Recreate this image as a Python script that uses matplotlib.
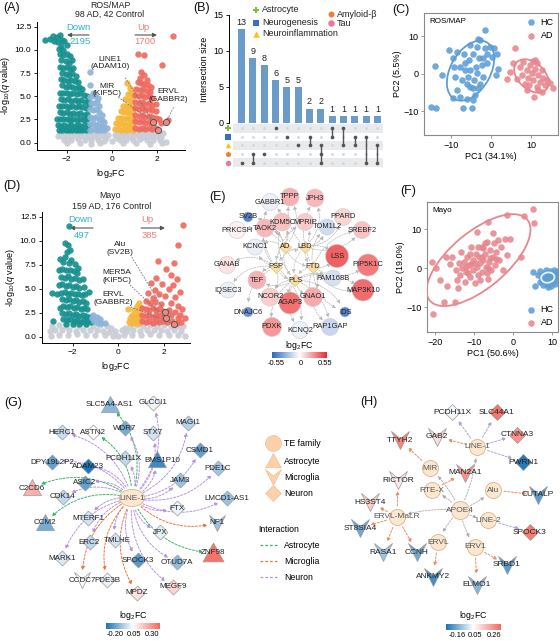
import numpy as np
import matplotlib
matplotlib.use("Agg")
import matplotlib.pyplot as plt
from matplotlib.colors import LinearSegmentedColormap, Normalize
from matplotlib.patches import Ellipse
from matplotlib.path import Path

plt.rcParams['font.family'] = ['Liberation Sans', 'DejaVu Sans']
plt.rcParams['mathtext.fontset'] = 'custom'
plt.rcParams['mathtext.rm'] = 'Liberation Sans'
plt.rcParams['mathtext.it'] = 'Liberation Sans:italic'
plt.rcParams['font.size'] = 6
plt.rcParams['axes.linewidth'] = 0.7

W, H = 560, 641

# ---------------- data: volcano ROS/MAP (A) ----------------
a_down = [(-2.95, 11.1), (-2.75, 11.2), (-2.6, 11.5), (-2.45, 11.4), (-2.3, 11.6), (-2.2, 11.1), (-2.1, 10.9),
          (-2.0, 10.5), (-2.4, 10.8), (-2.55, 10.9), (-2.25, 10.4), (-2.15, 10.0), (-2.35, 10.1),
          (-2.3, 9.5), (-2.15, 9.4), (-2.0, 9.6), (-1.85, 9.3), (-2.25, 8.9), (-2.05, 8.8), (-1.9, 8.6), (-1.75, 8.9),
          (-2.3, 8.2), (-2.15, 8.0), (-2.0, 8.1), (-1.85, 7.9), (-1.7, 8.0), (-2.2, 7.5), (-2.05, 7.4), (-1.9, 7.3),
          (-1.75, 7.5), (-1.6, 7.2), (-2.25, 6.9), (-2.1, 6.8), (-1.95, 6.6), (-1.8, 6.8), (-1.65, 6.6), (-1.5, 6.5),
          (-2.2, 6.2), (-2.05, 6.0), (-1.9, 6.1), (-1.75, 6.0), (-1.6, 5.9), (-1.45, 6.0), (-1.3, 5.8),
          (-2.3, 5.4), (-2.15, 5.3), (-2.0, 5.4), (-1.85, 5.2), (-1.7, 5.3), (-1.55, 5.2), (-1.4, 5.3), (-1.25, 5.1),
          (-1.1, 5.0), (-2.25, 4.7), (-2.1, 4.6), (-1.95, 4.7), (-1.8, 4.5), (-1.65, 4.6), (-1.5, 4.5), (-1.35, 4.6),
          (-1.2, 4.4), (-1.05, 4.5), (-2.35, 4.0), (-2.2, 3.9), (-2.05, 4.0), (-1.9, 3.8), (-1.75, 3.9), (-1.6, 3.8),
          (-1.45, 3.9), (-1.3, 3.8), (-1.15, 3.7), (-1.02, 3.9), (-2.3, 3.3), (-2.15, 3.2), (-2.0, 3.3), (-1.85, 3.1),
          (-1.7, 3.2), (-1.55, 3.1), (-1.4, 3.2), (-1.25, 3.0), (-1.1, 3.1), (-2.45, 2.5), (-2.3, 2.6), (-2.15, 2.5),
          (-2.0, 2.6), (-1.85, 2.4), (-1.7, 2.5), (-1.55, 2.4), (-1.4, 2.5), (-1.25, 2.4), (-1.1, 2.5), (-2.4, 1.9),
          (-2.25, 1.8), (-2.1, 1.9), (-1.95, 1.8), (-1.8, 1.9), (-1.65, 1.8), (-1.5, 1.9), (-1.35, 1.8), (-1.2, 1.9),
          (-1.05, 1.8), (-2.35, 1.4), (-2.2, 1.35), (-2.05, 1.4), (-1.9, 1.4), (-1.75, 1.35), (-1.6, 1.4),
          (-1.45, 1.4), (-1.3, 1.35), (-1.15, 1.4)]
a_mdown = [(-0.98, 7.6), (-0.95, 6.2), (-0.85, 5.4), (-0.75, 5.0), (-0.95, 4.9), (-0.9, 4.3), (-0.78, 4.3),
           (-0.65, 4.4), (-0.55, 3.9), (-0.95, 3.6), (-0.83, 3.5), (-0.7, 3.6), (-0.58, 3.3), (-0.45, 3.0),
           (-0.95, 2.8), (-0.83, 2.7), (-0.7, 2.8), (-0.58, 2.6), (-0.45, 2.4), (-0.33, 2.2), (-0.95, 2.0),
           (-0.83, 2.1), (-0.7, 1.9), (-0.58, 2.0), (-0.45, 1.8), (-0.33, 1.7), (-0.2, 1.6), (-0.95, 1.4),
           (-0.8, 1.45), (-0.65, 1.4), (-0.5, 1.4), (-0.35, 1.35), (-0.6, 4.8)]
a_mup = [(0.67, 6.45), (0.8, 5.9), (0.72, 5.2), (0.85, 5.3), (0.95, 5.0), (0.6, 4.7), (0.75, 4.6), (0.88, 4.5),
         (0.5, 4.0), (0.63, 4.0), (0.77, 3.9), (0.9, 3.8), (0.4, 3.4), (0.53, 3.3), (0.66, 3.4), (0.79, 3.2),
         (0.92, 3.3), (0.3, 2.7), (0.43, 2.7), (0.56, 2.6), (0.69, 2.7), (0.82, 2.5), (0.95, 2.6), (0.2, 2.1),
         (0.33, 2.0), (0.46, 2.1), (0.59, 1.95), (0.72, 2.0), (0.85, 1.9), (0.97, 2.0), (0.15, 1.5), (0.28, 1.45),
         (0.41, 1.4), (0.54, 1.45), (0.67, 1.4), (0.8, 1.45), (0.93, 1.4)]
a_up = [(2.74, 11.5), (1.18, 9.5), (1.45, 9.4), (2.25, 8.4), (1.3, 7.6), (1.42, 7.3), (1.25, 7.0), (1.55, 6.8),
        (1.15, 6.5), (1.3, 6.4), (1.45, 6.3), (1.6, 6.2), (1.75, 6.0), (1.1, 5.8), (1.25, 5.7), (1.4, 5.8),
        (1.55, 5.6), (1.7, 5.5), (1.05, 5.1), (1.2, 5.0), (1.35, 5.1), (1.5, 4.9), (1.65, 5.0), (1.8, 4.8),
        (1.05, 4.4), (1.2, 4.3), (1.35, 4.4), (1.5, 4.2), (1.65, 4.3), (1.8, 4.1), (1.95, 4.2), (1.05, 3.7),
        (1.2, 3.6), (1.35, 3.7), (1.5, 3.5), (1.65, 3.6), (1.8, 3.5), (1.95, 3.4), (1.05, 3.0), (1.2, 2.9),
        (1.35, 3.0), (1.5, 2.8), (1.65, 2.9), (1.8, 2.8), (1.95, 2.7), (2.1, 2.6), (1.05, 2.3), (1.2, 2.2),
        (1.35, 2.3), (1.5, 2.1), (1.65, 2.2), (1.8, 2.1), (1.05, 1.6), (1.2, 1.5), (1.35, 1.6), (1.5, 1.45),
        (1.65, 1.55), (1.8, 1.5), (1.95, 1.6), (2.2, 2.1), (2.5, 2.4)]
a_ns = [(-2.3, 1.1), (-2.1, 1.2), (-1.9, 1.15), (-1.7, 1.2), (-1.5, 1.1), (-1.3, 1.2), (-1.1, 1.15), (-0.9, 1.2),
        (-0.7, 1.1), (-0.5, 1.2), (-0.3, 1.05), (-0.15, 0.8), (0.15, 0.85), (0.3, 1.1), (0.5, 1.2), (0.7, 1.15),
        (0.9, 1.2), (1.1, 1.1), (1.3, 1.2), (1.5, 1.15), (1.7, 1.2), (1.9, 1.1), (2.1, 1.15), (2.3, 1.0),
        (-2.4, 0.7), (-2.2, 0.75), (-2.0, 0.65), (-1.8, 0.7), (-1.6, 0.75), (-1.4, 0.7), (-1.2, 0.65), (-1.0, 0.75),
        (-0.8, 0.7), (-0.6, 0.65), (-0.4, 0.7), (-0.25, 0.5), (0.25, 0.55), (0.4, 0.7), (0.6, 0.75), (0.8, 0.65),
        (1.0, 0.7), (1.2, 0.75), (1.4, 0.65), (1.6, 0.7), (1.8, 0.75), (2.0, 0.7), (2.2, 0.65),
        (-2.1, 0.3), (-1.8, 0.25), (-1.5, 0.35), (-1.2, 0.3), (-0.9, 0.25), (-0.6, 0.3), (-0.35, 0.2), (0.0, 0.2),
        (0.35, 0.25), (0.65, 0.3), (0.95, 0.25), (1.25, 0.35), (1.55, 0.3), (1.85, 0.25), (2.15, 0.3),
        (-2.0, -0.05), (-1.4, 0.0), (-0.9, -0.1), (-0.5, 0.0), (0.5, -0.05), (1.1, 0.0), (1.7, -0.1), (2.25, 0.0),
        (2.4, 0.1)]
a_hl = [(1.85, 2.26), (2.07, 1.37), (2.41, 2.2)]
a_lab = ['MIR\n(KIF5C)', 'LINE1\n(ADAM10)', 'ERVL\n(GABBR2)']
a_lab_pos = [(-0.22, 5.7), (-0.08, 8.6), (2.5, 5.1)]
a_lab_from = [(0.29, 4.9), (0.6, 7.0), (2.75, 3.8)]

# ---------------- data: volcano Mayo (D) ----------------
d_down = [(-2.15, 11.5), (-2.9, 4.6), (-2.7, 4.4), (-2.85, 1.6), (-2.55, 3.0),
          (-2.33, 9.75), (-2.2, 9.55), (-2.26, 8.85), (-2.1, 9.0), (-2.35, 8.3), (-2.05, 8.0), (-2.55, 8.1),
          (-2.4, 7.8), (-2.15, 7.7), (-1.9, 7.6), (-1.75, 7.2), (-2.6, 7.0), (-2.45, 7.1), (-2.3, 6.9), (-2.1, 7.0),
          (-1.95, 6.8), (-1.8, 6.6), (-2.5, 6.2), (-2.35, 6.1), (-2.2, 6.3), (-2.05, 6.0), (-1.9, 6.1), (-1.7, 5.9),
          (-1.55, 6.0), (-2.6, 5.4), (-2.45, 5.5), (-2.3, 5.3), (-2.15, 5.4), (-2.0, 5.2), (-1.85, 5.3), (-1.7, 5.1),
          (-1.5, 5.2), (-1.3, 4.7), (-2.5, 4.6), (-2.35, 4.7), (-2.2, 4.5), (-2.05, 4.6), (-1.9, 4.4), (-1.75, 4.5),
          (-1.6, 4.3), (-1.45, 4.4), (-2.45, 3.9), (-2.3, 3.8), (-2.15, 3.9), (-2.0, 3.7), (-1.85, 3.8), (-1.7, 3.6),
          (-1.55, 3.7), (-1.4, 3.5), (-2.4, 3.2), (-2.25, 3.1), (-2.1, 3.2), (-1.95, 3.0), (-1.8, 3.1), (-1.65, 2.9),
          (-1.5, 3.0), (-1.35, 2.9), (-2.45, 2.5), (-2.3, 2.4), (-2.15, 2.5), (-2.0, 2.3), (-1.85, 2.4), (-1.7, 2.2),
          (-1.55, 2.3), (-1.4, 2.2), (-1.25, 2.1), (-2.4, 1.8), (-2.25, 1.7), (-2.1, 1.8), (-1.95, 1.6), (-1.8, 1.7),
          (-1.65, 1.5), (-1.5, 1.7), (-1.35, 1.6), (-1.2, 1.5), (-2.3, 1.35), (-2.0, 1.35), (-1.7, 1.35), (-1.4, 1.35)]
d_mdown = [(-1.1, 2.3), (-0.95, 2.0), (-0.8, 1.8), (-1.05, 1.6), (-0.9, 1.45), (-0.75, 1.4), (-0.6, 1.4), (-1.15, 1.9)]
d_mup = [(0.9, 3.5), (0.8, 3.2), (0.95, 3.0), (0.7, 2.8), (0.85, 2.7), (0.42, 2.9), (0.6, 2.3), (0.75, 2.2),
         (0.9, 2.3), (0.5, 1.9), (0.65, 1.8), (0.8, 1.9), (0.95, 1.8), (0.45, 1.5), (0.6, 1.4), (0.75, 1.45),
         (0.9, 1.4)]
d_up = [(2.84, 11.6), (2.63, 9.6), (1.75, 7.9), (2.45, 7.7), (2.1, 7.1), (2.3, 6.4), (1.65, 6.1), (2.55, 6.0),
        (1.45, 5.6), (1.9, 5.5), (2.4, 5.4), (2.2, 5.0), (1.6, 4.9), (2.7, 4.7), (1.3, 4.6), (1.8, 4.4),
        (2.05, 4.2), (2.5, 4.1), (1.5, 4.0), (1.2, 3.7), (1.4, 3.5), (1.6, 3.6), (1.85, 3.4), (2.3, 3.5),
        (2.6, 3.2), (2.8, 2.9), (1.05, 3.0), (1.2, 2.9), (1.35, 2.8), (1.5, 2.95), (1.65, 2.8), (1.8, 2.9),
        (1.95, 2.7), (2.2, 2.8), (2.5, 2.6), (2.7, 2.3), (1.05, 2.3), (1.2, 2.2), (1.35, 2.3), (1.5, 2.1),
        (1.65, 2.3), (1.8, 2.2), (2.0, 2.1), (2.3, 2.3), (2.6, 1.9), (1.05, 1.6), (1.2, 1.5), (1.35, 1.6),
        (1.5, 1.45), (1.65, 1.6), (1.8, 1.5), (1.95, 1.6), (2.15, 1.5), (2.35, 1.6), (2.55, 1.45), (2.75, 1.5),
        (2.9, 1.9)]
d_ns = [(-2.9, 1.1), (-2.6, 1.2), (-2.3, 1.1), (-2.0, 1.2), (-1.7, 1.15), (-1.4, 1.2), (-1.1, 1.1), (-0.8, 1.2),
        (-0.5, 1.1), (-0.3, 0.9), (-0.15, 0.6), (0.15, 0.65), (0.3, 0.95), (0.5, 1.15), (0.8, 1.2), (1.1, 1.1),
        (1.4, 1.2), (1.7, 1.15), (2.0, 1.2), (2.3, 1.1), (2.6, 1.15), (2.85, 1.1),
        (-3.0, 0.6), (-2.75, 0.7), (-2.45, 0.65), (-2.15, 0.7), (-1.85, 0.6), (-1.55, 0.7), (-1.25, 0.65),
        (-0.95, 0.7), (-0.65, 0.6), (-0.4, 0.5), (0.4, 0.55), (0.65, 0.7), (0.95, 0.6), (1.25, 0.7), (1.55, 0.65),
        (1.85, 0.7), (2.15, 0.6), (2.45, 0.7), (2.75, 0.6),
        (-2.95, 0.1), (-2.6, 0.2), (-2.2, 0.15), (-1.8, 0.25), (-1.4, 0.2), (-1.0, 0.15), (-0.6, 0.2), (-0.25, 0.1),
        (0.0, 0.05), (0.25, 0.15), (0.6, 0.2), (1.0, 0.15), (1.4, 0.25), (1.8, 0.15), (2.2, 0.2), (2.6, 0.15),
        (2.9, 0.1)]
d_hl = [(2.04, 2.6), (2.07, 1.9), (2.45, 1.3)]
d_lab = ['Alu\n(SV2B)', 'MER5A\n(KIF5C)', 'ERVL\n(GABBR2)']
d_lab_pos = [(0.08, 9.2), (-0.07, 6.25), (-0.22, 4.0)]
d_lab_from = [(0.59, 8.3), (0.51, 5.4), (0.55, 3.1)]

# ---------------- data: upset (B) ----------------
sets = ['Astrocyte', 'Neurogenesis', 'Neuroinflammation', 'Amyloid-β', 'Tau']
set_colors = ['#77c043', '#3a6fc4', '#f5c518', '#f07d3a', '#ea7a9c']
set_markers = ['P', 's', '^', 'h', 'o']
inter_sizes = [13, 9, 8, 6, 5, 5, 2, 2, 1, 1, 1, 1, 1]
inter_members = [[4], [3, 4], [3], [0], [1], [2], [1, 2], [2, 3, 4], [0, 1], [0, 2], [1, 2], [1, 4], [2, 4]]

# ---------------- data: PCA (C, F) ----------------
c_hc = [(-15, -8.8), (-13.75, -9), (-14, 2.0), (-12.3, -0.4), (-10.4, 6.3), (-9.6, -6.4), (-9.4, 4.1), (-9.2, 1.9),
        (-9, -0.8), (-8.4, -4.4), (-7.75, -6.1), (-6.9, -9.2), (-6.7, 5.4), (-6.5, 2.8), (-5.9, -6.6), (-5.7, -0.8),
        (-5.4, 3.6), (-5.25, 1.0), (-4.8, -9.2), (-4.6, -3.9), (-4.4, 5.4), (-4.25, -1.7), (-4, -5.7), (-3.75, 1.9),
        (-3.6, 7.2), (-3.2, 9.4), (-2.75, 9.0), (-2.9, 4.1), (-2.3, 2.3), (-1.9, -0.8), (-1.5, 11.6), (-1.5, 6.8),
        (-1.1, 5.4), (-0.9, 2.8), (-0.25, 7.2), (0.2, 4.5), (0.75, 6.8), (1.25, -0.4), (1.8, 1.4), (1.4, 5.4),
        (-6, -2.6), (-7.3, -1.7), (-5.25, -3.5), (-7.75, 1.9), (-8.6, 5.9), (-6.5, 1.0), (-3.6, 0.1), (-2.75, -2.6),
        (-3.2, -3.9), (-4.4, -7), (-5.25, 7.6), (-1.9, 4.1)]
c_ad = [(6, 6.8), (3.9, -1.5), (4.75, 0.5), (5.6, 2.9), (6.4, -1.5), (7.25, 1.9), (7.7, -0.4), (8.1, 3.2),
        (8.5, -2.6), (8.9, 1.0), (9.3, -1), (9.75, 2.3), (10.2, 0.1), (10.6, -1.7), (10.75, -6.1), (11, 1.4),
        (11.4, -3.5), (11.8, -0.4), (12.25, -2.1), (12.7, -4.8), (13.1, -1.2), (13.5, -3.0), (13.9, -1.7),
        (15.4, -3.7), (11.4, 2.8), (10.4, 3.5), (8.9, -4.2), (9.6, -3.0), (11.8, -4.4), (14.75, -2.4),
        (12.7, 1.0), (11, 3.6)]
f_ad = [(-20.9, 1.7), (-20.5, -11.8), (-19.7, 0), (-18.8, -3), (-17.8, -8.7), (-17.1, 3.0), (-16.9, -4.5),
        (-16.2, 1.1), (-15.8, 3.0), (-15, -8.5), (-14.7, -0.4), (-14.4, -3.0), (-14.1, -5.1), (-13.8, 1.3),
        (-13.7, -1.7), (-13.5, 4.3), (-13, 0), (-12.6, 1.7), (-12.4, -3.4), (-12, -0.9), (-11.8, 3.0), (-11.3, 0.9),
        (-11.1, -2.1), (-10.7, 5.4), (-10.4, -0.4), (-10.3, 2.1), (-9.8, -3.8), (-9.6, 3.8), (-9.4, 9.2),
        (-9.2, 0.4), (-9, -1.7), (-8.7, 3.0), (-8.4, 1.3), (-8.1, 5.6), (-7.9, -0.9), (-7.7, 2.1), (-7.3, 3.8),
        (-7, 0.4), (-6.8, 6.8), (-6.4, 12), (-6.4, -2.6), (-6.2, 1.7), (-6, 4.7), (-5.6, -0.4), (-5.3, 3.0),
        (-5, 6.4), (-4.7, 0.9), (-4.3, 4.3), (-3.8, 7.3), (-3.6, 2.1), (-3, 5.6), (-2.6, -0.4), (-2.1, 7.5),
        (-1.7, 3.4), (-0.9, 7.5), (-1.5, 13.7), (1.9, 3.0), (2.7, 13.4), (5.1, 15.3), (5.3, 11.5),
        (-11.1, 3.8), (-8.5, -3.0), (-9.8, 1.3), (-7.3, 6.4), (-6, 2.6), (-12, 0.4), (-7.7, 5.1), (-6.8, -1.3),
        (-9, 5.6), (-5.1, 9.0), (-10.8, 1.0), (-8.0, 2.8), (-6.5, 0.0), (-4.5, 2.5), (-11.5, -1.2)]
f_hc = [(5.0, -0.9), (5.6, -4.5), (6.3, -1.8), (6.8, -3.6), (7.0, -0.6), (7.3, -2.6), (7.6, -4.2), (7.9, -1.4),
        (8.2, -3.1), (8.4, -0.4), (8.6, -2.2), (8.8, -4.0), (9.0, -1.2), (9.2, -3.3), (9.4, -0.8), (9.6, -2.6),
        (9.8, -4.4), (10.0, -1.7), (10.2, -3.5), (10.4, -0.3), (10.6, -2.4), (10.8, -4.0), (11.0, -1.3),
        (11.2, -3.0), (11.4, -0.6), (8.0, -2.0), (9.5, -2.0), (10.5, -1.2), (7.5, -3.0), (9.0, -4.7), (11.3, -2.0)]

# ---------------- data: network E ----------------
e_genes = ['TPPP', 'GABBR1', 'JPH3', 'SV2B', 'PPARD', 'KDM5C', 'MPRIP', 'PRKCSH', 'TAOK2', 'TOM1L2', 'SREBF2',
           'KCNC1', 'LSS', 'GANAB', 'PIP5K1C', 'TEF', 'FAM168B', 'IQSEC3', 'MAP3K10', 'NCOR2', 'GNAO1', 'AGAP3',
           'DNAJC6', 'IDS', 'PDXK', 'KCNQ2', 'RAP1GAP']
e_x = [290, 270, 315, 248, 343, 282, 305, 237, 265, 327, 362, 255, 337, 227, 368, 257, 333, 228, 363, 270, 313,
       290, 248, 345, 272, 300, 330]
e_y = [197, 202, 198, 217, 217, 222, 222, 230, 228, 227, 230, 247, 256, 265, 265, 280, 278, 290, 290, 297, 297,
       303, 312, 312, 327, 330, 327]
e_fc = [0.22, -0.06, 0.2, -0.5, 0.12, 0.18, 0.15, 0.04, 0.2, -0.14, 0.18, -0.06, 0.45, 0.08, 0.38, 0.22, -0.12,
        -0.06, 0.42, 0.14, 0.24, 0.4, -0.45, -0.5, 0.3, -0.05, -0.16]
e_size = [18, 17, 18, 10, 17, 18, 17, 17, 18, 16, 17, 16, 23, 17, 22, 18, 16, 16, 22, 18, 19, 22, 10, 10, 19, 17, 17]
e_dis = ['AD', 'LBD', 'PSP', 'FTD', 'PLS']
e_dis_x = [285, 305, 276, 313, 295]
e_dis_y = [247, 247, 267, 267, 280]
e_links = {'TPPP': ['AD', 'LBD'], 'GABBR1': ['AD', 'PSP'], 'JPH3': ['LBD', 'FTD'], 'SV2B': ['AD'],
           'PPARD': ['LBD'], 'KDM5C': ['AD', 'PLS'], 'MPRIP': ['LBD', 'PSP'], 'PRKCSH': ['AD'],
           'TAOK2': ['AD', 'PSP'], 'TOM1L2': ['LBD', 'FTD'], 'SREBF2': ['LBD', 'FTD'], 'KCNC1': ['AD', 'PSP'],
           'LSS': ['FTD', 'LBD'], 'GANAB': ['PSP'], 'PIP5K1C': ['FTD'], 'TEF': ['PSP', 'PLS'],
           'FAM168B': ['FTD', 'PLS'], 'IQSEC3': ['PSP'], 'MAP3K10': ['FTD', 'PLS'], 'NCOR2': ['PLS', 'PSP'],
           'GNAO1': ['PLS', 'FTD'], 'AGAP3': ['PLS'], 'DNAJC6': ['PSP'], 'IDS': ['FTD', 'PLS'], 'PDXK': ['PLS'],
           'KCNQ2': ['PLS', 'PSP'], 'RAP1GAP': ['FTD', 'PLS']}

# ---------------- data: network G ----------------
g_center = 'LINE-1'
g_nodes = ['SLC5A4-AS1', 'GLCCI1', 'MAGI1', 'HERC1', 'ASTN2', 'WDR7', 'STX7', 'CSMD1', 'DPY19L2P2', 'ADAM23',
           'PCDH11X', 'BMS1P10', 'PDE1C', 'C2CD6', 'ASIC2', 'JAM3', 'CDK14', 'LMCD1-AS1', 'FTX', 'MTERF1', 'NF1',
           'CCM2', 'JPX', 'ERC2', 'TMLHE', 'ZNF98', 'MARK1', 'SPOCK3', 'OTUD7A', 'CCDC7', 'PDE3B', 'MEGF9', 'MPDZ']
g_x = [110, 153, 188, 62, 93, 125, 153, 200, 52, 88, 125, 157, 218, 32, 85, 180, 63, 227, 177, 88, 217, 45, 160,
       90, 115, 213, 62, 138, 177, 82, 107, 173, 137]
g_y = [405, 403, 423, 432, 432, 428, 433, 450, 462, 466, 458, 460, 468, 488, 483, 480, 497, 498, 508, 518, 523,
       523, 532, 542, 540, 553, 558, 560, 562, 580, 580, 587, 593]
g_type = ['tri', 'dia', 'dia', 'dia', 'dia', 'dia', 'dia', 'dia', 'dia', 'dia', 'dia', 'tri', 'dia', 'tri', 'dia',
          'dia', 'dia', 'dia', 'dia', 'dia', 'v', 'tri', 'dia', 'dia', 'dia', 'tri', 'dia', 'dia', 'dia', 'v', 'dia',
          'dia', 'dia']
g_fc = [-0.08, 0.03, -0.03, -0.01, 0.05, -0.1, 0.0, -0.12, -0.12, -0.2, -0.02, -0.16, -0.05, 0.18, -0.12, -0.06,
        -0.02, -0.06, 0.03, 0.0, -0.06, -0.1, 0.02, -0.02, 0.0, 0.28, 0.01, -0.13, -0.07, 0.05, 0.03, 0.12, 0.1]
g_edge = ['a', 'n', 'n', 'n', 'a', 'n', 'n', 'n', 'n', 'n', 'n', 'n', 'n', 'a', 'n', 'n', 'n', 'n', 'n', 'n', 'm',
          'a', 'n', 'n', 'n', 'a', 'n', 'n', 'n', 'm', 'm', 'n', 'm']
g_label_dx = {'BMS1P10': 5, 'PCDH11X': -2, 'ERC2': -1, 'TMLHE': 2}

# ---------------- data: network H ----------------
h_te = ['LINE-1', 'MIR', 'Alu', 'RTE-X', 'APOE4', 'ERVL-MaLR', 'LINE-2', 'ERVL', 'ERV1']
h_te_x = [477, 430, 493, 432, 460, 397, 488, 438, 475]
h_te_y = [447, 468, 490, 490, 510, 517, 520, 542, 547]
h_genes = ['PCDH11X', 'SLC44A1', 'GAB2', 'TTYH2', 'CTNNA3', 'PWRN1', 'MAN2A1', 'RICTOR', 'CUTALP', 'HS3ST4',
           'ST8SIA4', 'SPOCK3', 'RASA1', 'CCNH', 'SRBD1', 'ANKMY2', 'ELMO1']
h_x = [452, 497, 437, 400, 517, 523, 465, 398, 538, 370, 360, 530, 383, 417, 507, 433, 477]
h_y = [412, 412, 437, 440, 435, 462, 473, 480, 495, 502, 528, 532, 552, 552, 565, 577, 585]
h_type = ['dia', 'dia', 'v', 'v', 'dia', 'dia', 'v', 'v', 'v', 'v', 'v', 'dia', 'v', 'v', 'v', 'v', 'v']
h_fc = [0.04, 0.24, 0.1, 0.22, 0.2, -0.15, 0.2, 0.08, -0.1, 0.12, -0.08, 0.23, -0.04, -0.08, -0.1, -0.12, -0.06]
h_src = ['LINE-1', 'LINE-1', 'LINE-1', 'MIR', 'LINE-1', 'LINE-1', 'RTE-X', 'ERVL-MaLR', 'Alu', 'ERVL-MaLR',
         'ERVL-MaLR', 'LINE-2', 'ERVL-MaLR', 'ERVL-MaLR', 'ERV1', 'ERVL', 'ERV1']


def box(x0, y0, x1, y1):
    return [x0 / W, 1 - y1 / H, (x1 - x0) / W, (y1 - y0) / H]


def xy(pts):
    a = np.array(pts, dtype=float)
    return a[:, 0], a[:, 1]


V_MARK = Path([(-1, 1), (0, 0.2), (1, 1), (0, -1), (-1, 1)],
              [Path.MOVETO, Path.LINETO, Path.LINETO, Path.LINETO, Path.CLOSEPOLY])
DIA_MARK = Path([(0, 1), (1, 0), (0, -1), (-1, 0), (0, 1)],
                [Path.MOVETO, Path.LINETO, Path.LINETO, Path.LINETO, Path.CLOSEPOLY])
TRI_MARK = Path([(0, 1), (1, -0.8), (-1, -0.8), (0, 1)],
                [Path.MOVETO, Path.LINETO, Path.LINETO, Path.CLOSEPOLY])
SHAPES = {'v': V_MARK, 'dia': DIA_MARK, 'tri': TRI_MARK}


def s_px(d):
    return (0.72 * d) ** 2


fig = plt.figure(figsize=(W / 100, H / 100), dpi=100)

# overlay axes in pixel units for free text and networks
axn = fig.add_axes([0, 0, 1, 1])
axn.set_xlim(0, W)
axn.set_ylim(H, 0)
axn.axis('off')

# ---------------- volcano panels ----------------
C_DOWN, C_MDOWN, C_MUP, C_UP, C_NS = '#17908f', '#8db4d8', '#f6b73c', '#ee6a60', '#c9ccd5'


def volcano(bx, xlim, ylim, groups, hl, labs, lab_pos, lab_from):
    ax = fig.add_axes(box(*bx))
    ax.set_facecolor('none')
    for pts, col in groups:
        px_, py_ = xy(pts)
        ax.scatter(px_, py_, s=21, color=col, lw=0, alpha=0.92, zorder=2)
    hx, hy = xy(hl)
    for t, (tx, ty), (fx, fy), x0, y0 in zip(labs, lab_pos, lab_from, hx, hy):
        ax.plot([fx, x0], [fy, y0], ls=(0, (2, 1.5)), color='#777777', lw=0.6, zorder=3)
        ax.text(tx, ty, t, ha='center', va='center', fontsize=6, color='#222222', zorder=4, linespacing=1.1)
    ax.scatter(hx, hy, s=20, color='#ef8a80', edgecolor='#555555', lw=0.7, zorder=5)
    ax.set_xlim(*xlim)
    ax.set_ylim(*ylim)
    for sp in ['top', 'right']:
        ax.spines[sp].set_visible(False)
    ax.set_xticks([-2, 0, 2])
    ax.set_yticks([0, 2.5, 5, 7.5, 10, 12.5])
    ax.set_yticklabels(['0.0', '2.5', '5.0', '7.5', '10.0', '12.5'])
    ax.tick_params(length=2.5, width=0.6, pad=1.5, labelsize=6)
    ax.set_xlabel(r'log$_2$FC', fontsize=6.5, labelpad=3)
    ax.set_ylabel(r'-log$_{10}$($q$ value)', fontsize=6.5, labelpad=2)
    return ax


volcano((37, 22, 185, 150), (-3.32, 3.26), (-0.79, 13.0),
        [(a_ns, C_NS), (a_down, C_DOWN), (a_mdown, C_MDOWN), (a_mup, C_MUP), (a_up, C_UP)],
        a_hl, a_lab, a_lab_pos, a_lab_from)
volcano((42, 212, 190, 343), (-3.34, 3.14), (-0.66, 13.0),
        [(d_ns, C_NS), (d_down, C_DOWN), (d_mdown, C_MDOWN), (d_mup, C_MUP), (d_up, C_UP)],
        d_hl, d_lab, d_lab_pos, d_lab_from)

for (tx, ty, s) in [(110, 5, 'ROS/MAP'), (110, 14, '98 AD, 42 Control'),
                    (110, 195, 'Mayo'), (112, 206, '159 AD, 176 Control')]:
    axn.text(tx, ty, s, ha='center', va='center', fontsize=6.3, color='#222222')

COL_DN, COL_UP = '#2eb4c4', '#f07b78'
for (dx, dy, dn, ux, un, a0, a1, b0, b1) in [(78, 27, '2195', 143, '1700', 89, 67, 135, 157),
                                            (80, 220, '497', 147, '385', 93, 70, 141, 165)]:
    axn.text(dx, dy, 'Down', ha='center', va='center', fontsize=6.8, color=COL_DN)
    axn.text(dx + 2, dy + 15, dn, ha='center', va='center', fontsize=6.8, color=COL_DN)
    axn.text(ux, dy, 'Up', ha='center', va='center', fontsize=6.8, color=COL_UP)
    axn.text(ux + 2, dy + 15, un, ha='center', va='center', fontsize=6.8, color=COL_UP)
    for s0, s1 in [(a0, a1), (b0, b1)]:
        axn.annotate('', xy=(s1, dy + 8), xytext=(s0, dy + 8),
                     arrowprops=dict(arrowstyle='-|>', color='#555555', lw=0.8, mutation_scale=6,
                                     shrinkA=0, shrinkB=0))

# ---------------- upset (B) ----------------
n_int = len(inter_sizes)
xl = (-1.12, n_int - 0.5)
axb = fig.add_axes(box(229, 15, 383, 123))
axb.set_facecolor('none')
axb.bar(range(n_int), inter_sizes, width=0.62, color='#6a9bc9')
for i, v in enumerate(inter_sizes):
    axb.text(i, v + 0.3, str(v), ha='center', va='bottom', fontsize=6.5, color='#222222')
axb.set_xlim(*xl)
axb.set_ylim(0, 15)
axb.set_yticks([0, 5, 10, 15])
axb.set_xticks([])
for sp in ['top', 'right', 'bottom']:
    axb.spines[sp].set_visible(False)
axb.tick_params(length=2.5, width=0.6, pad=1.5, labelsize=6.5)
axb.set_ylabel('Intersection size', fontsize=6.5, labelpad=3)

axm = fig.add_axes(box(229, 124, 383, 167))
axm.set_xlim(*xl)
axm.set_ylim(len(sets) - 0.5, -0.5)
axm.axis('off')
for r in range(0, len(sets), 2):
    axm.fill_between([-0.77, n_int - 0.5], r - 0.5, r + 0.5, color='#e9eaec', lw=0, zorder=0)
for r, (c, m) in enumerate(zip(set_colors, set_markers)):
    axm.scatter([-1.21], [r], marker=m, s=16, color=c, lw=0, clip_on=False, zorder=3)
for i, mem in enumerate(inter_members):
    axm.scatter([i] * len(sets), range(len(sets)), s=4, color='#d4d5d8', lw=0, zorder=1)
    axm.plot([i, i], [min(mem), max(mem)], color='#555555', lw=1.0, zorder=2)
    axm.scatter([i] * len(mem), mem, s=7, color='#555555', lw=0, zorder=3)

leg_pos = [(256, 10), (256, 22.5), (256, 33.5), (331, 14.3), (331, 23)]
for (lx, ly), name, c, m in zip(leg_pos, sets, set_colors, set_markers):
    axn.scatter([lx], [ly], marker=m, s=22, color=c, lw=0)
    axn.text(lx + 6, ly, name, va='center', ha='left', fontsize=6.5, color='#222222')

# ---------------- PCA (C, F) ----------------
C_HC, C_AD = '#5c9dd6', '#e7868d'


def ellipse(ax, pts, nstd, color, lw=1.3):
    p = np.asarray(pts, dtype=float)
    m = p.mean(0)
    vals, vecs = np.linalg.eigh(np.cov(p.T))
    order = vals.argsort()[::-1]
    vals, vecs = vals[order], vecs[:, order]
    ang = np.degrees(np.arctan2(vecs[1, 0], vecs[0, 0]))
    ax.add_patch(Ellipse(m, 2 * nstd * np.sqrt(vals[0]), 2 * nstd * np.sqrt(vals[1]), angle=ang,
                         fill=False, ec=color, lw=lw, zorder=4))


def pca(bx, xlim, ylim, hc, ad, xt, yt, xlab, ylab, title, loc, nstd_hc, nstd_ad, hc_ell):
    ax = fig.add_axes(box(*bx))
    hx, hy = xy(hc)
    adx, ady = xy(ad)
    ax.scatter(hx, hy, s=22, color=C_HC, lw=0, alpha=0.88, label='HC', zorder=2)
    ax.scatter(adx, ady, s=22, color=C_AD, lw=0, alpha=0.88, label='AD', zorder=2)
    ellipse(ax, hc, nstd_hc, hc_ell)
    ellipse(ax, ad, nstd_ad, C_AD)
    ax.set_xlim(*xlim)
    ax.set_ylim(*ylim)
    ax.set_xticks(xt)
    ax.set_yticks(yt)
    for sp in ax.spines.values():
        sp.set_color('#8a8a8a')
        sp.set_linewidth(0.8)
    ax.tick_params(length=2.5, width=0.6, pad=1.5, labelsize=6.5, color='#8a8a8a')
    ax.set_xlabel(xlab, fontsize=6.5, labelpad=2)
    ax.set_ylabel(ylab, fontsize=6.5, labelpad=1)
    ax.text(0.04, 0.96, title, transform=ax.transAxes, ha='left', va='top', fontsize=5.8)
    ax.legend(loc=loc, frameon=False, fontsize=6.5, handletextpad=0.1, borderaxespad=0.2, labelspacing=0.5,
              borderpad=0.3)
    return ax


pca((424, 13, 558, 135), (-16.75, 16.75), (-16.3, 16.2), c_hc, c_ad, [-10, 0, 10], [-10, 0, 10],
    'PC1 (34.1%)', 'PC2 (5.5%)', 'ROS/MAP', 'upper right', 1.5, 1.5, C_HC)
pca((427, 202, 558, 332), (-22.1, 11.5), (-16.3, 17.0), f_hc, f_ad, [-20, -10, 0, 10], [-10, 0, 10],
    'PC1 (50.6%)', 'PC2 (19.0%)', 'Mayo', 'lower right', 1.0, 2.4, '#e6f0fa')

# ---------------- colormaps ----------------
cmap_e = LinearSegmentedColormap.from_list('e', ['#2f68c0', '#ffffff', '#ec2a2c'])
cmap_gh = LinearSegmentedColormap.from_list('gh', ['#1a74b8', '#ffffff', '#f5675d'])
norm_e = Normalize(-0.55, 0.55)
norm_g = Normalize(-0.2, 0.3)
norm_h = Normalize(-0.16, 0.26)


def arrow(p0, p1, col, rad, sa, sb, lw=0.6, z=1):
    axn.annotate('', xy=p1, xytext=p0, zorder=z,
                 arrowprops=dict(arrowstyle='-|>', color=col, lw=lw, ls=(0, (2.2, 1.6)),
                                 connectionstyle='arc3,rad=%s' % rad, shrinkA=sa, shrinkB=sb,
                                 mutation_scale=5))


def colorbar(bx, cmap, lo, hi, ticks, labels, label_y):
    ax = fig.add_axes(box(*bx))
    ax.imshow(np.linspace(0, 1, 256)[None, :], aspect='auto', cmap=cmap, extent=(lo, hi, 0, 1))
    ax.set_yticks([])
    ax.set_xticks(ticks)
    ax.set_xticklabels(labels)
    ax.tick_params(length=0, pad=1.5, labelsize=5.4)
    for sp in ax.spines.values():
        sp.set_visible(False)
    axn.text((bx[0] + bx[2]) / 2, label_y, r'log$_2$FC', ha='center', va='center', fontsize=6.3)


# ---------------- network E ----------------
dis_pos = dict(zip(e_dis, zip(e_dis_x, e_dis_y)))
gene_pos = dict(zip(e_genes, zip(e_x, e_y)))
for g, srcs in e_links.items():
    for k, s in enumerate(srcs):
        arrow(dis_pos[s], gene_pos[g], '#b5b5b5', 0.35 if k == 0 else -0.3, 5, 7, lw=0.5)
for a, b in [('AD', 'LBD'), ('AD', 'PSP'), ('LBD', 'FTD'), ('PSP', 'PLS'), ('FTD', 'PLS'), ('AD', 'FTD'),
             ('LBD', 'PSP'), ('AD', 'PLS'), ('LBD', 'PLS')]:
    arrow(dis_pos[a], dis_pos[b], '#c0c0c0', 0.3, 5, 5, lw=0.5)
axn.scatter(e_x, e_y, s=[s_px(d) for d in e_size], c=e_fc, cmap=cmap_e, norm=norm_e,
            edgecolors='#cfcfd4', linewidths=0.5, alpha=0.9, zorder=3)
axn.scatter(e_dis_x, e_dis_y, s=s_px(12), marker=DIA_MARK, color='#f8dfa6', edgecolors='#e3c27e',
            linewidths=0.5, zorder=3)
for n, x0, y0 in zip(e_genes, e_x, e_y):
    axn.text(x0, y0, n, ha='center', va='center', fontsize=5.4, color='#222222', zorder=5)
for n, x0, y0 in zip(e_dis, e_dis_x, e_dis_y):
    axn.text(x0, y0, n, ha='center', va='center', fontsize=5.4, color='#222222', zorder=5)
colorbar((272, 352, 327, 358), cmap_e, -0.65, 0.59, [-0.55, 0, 0.55], ['-0.55', '0', '0.55'], 345.5)

# ---------------- network G ----------------
edge_cols = {'a': '#35b56a', 'm': '#f07535', 'n': '#b593e3'}
g_c = (132, 498)
for x0, y0, t, et in zip(g_x, g_y, g_type, g_edge):
    arrow(g_c, (x0, y0), edge_cols[et], 0.3, 9, 7, lw=0.7)
axn.add_patch(Ellipse(g_c, 25, 17, fc='#fbe7cf', ec='#d9b58c', lw=0.6, zorder=3))
axn.text(g_c[0], g_c[1], g_center, ha='center', va='center', fontsize=6, color='#555555', zorder=5)
for n, x0, y0, t, fc in zip(g_nodes, g_x, g_y, g_type, g_fc):
    d = {'dia': 15, 'tri': 18, 'v': 16}[t]
    if n == 'ZNF98':
        d = 21
    axn.scatter([x0], [y0], s=s_px(d), marker=SHAPES[t], color=cmap_gh(norm_g(fc)), edgecolors='#9a9a9a',
                linewidths=0.5, zorder=3)
    axn.text(x0 + g_label_dx.get(n, 0), y0, n, ha='center', va='center', fontsize=5.8, color='#222222', zorder=5)
colorbar((106, 623, 160, 629), cmap_gh, -0.325, 0.41, [-0.2, 0.05, 0.3], ['-0.20', '0.05', '0.30'], 615)

# ---------------- network H ----------------
te_pos = dict(zip(h_te, zip(h_te_x, h_te_y)))
for n in h_te:
    if n != 'APOE4':
        arrow(te_pos['APOE4'], te_pos[n], '#ababab', 0.1, 8, 8, lw=0.6)
for src, x0, y0, t in zip(h_src, h_x, h_y, h_type):
    col = '#f28c5e' if t == 'v' else '#a6a6d2'
    arrow(te_pos[src], (x0, y0), col, 0.0, 8, 8, lw=0.7)
for n, x0, y0 in zip(h_te, h_te_x, h_te_y):
    d = 18 if n == 'APOE4' else 16
    axn.scatter([x0], [y0], s=s_px(d), color='#fbe7cf', edgecolors='#d9b58c', linewidths=0.6, zorder=3)
    axn.text(x0, y0, n, ha='center', va='center', fontsize=6, color='#555555', zorder=5)
for n, x0, y0, t, fc in zip(h_genes, h_x, h_y, h_type, h_fc):
    d = {'dia': 16, 'v': 18}[t]
    axn.scatter([x0], [y0], s=s_px(d), marker=SHAPES[t], color=cmap_gh(norm_h(fc)), edgecolors='#9a9a9a',
                linewidths=0.5, zorder=3)
    axn.text(x0, y0, n, ha='center', va='center', fontsize=6, color='#222222', zorder=5)
colorbar((446, 624, 501, 630), cmap_gh, -0.285, 0.342, [-0.16, 0.05, 0.26], ['-0.16', '0.05', '0.26'], 616)

# ---------------- G/H legend ----------------
leg_names = ['TE family', 'Astrocyte', 'Microglia', 'Neuron']
leg_marks = ['o', TRI_MARK, V_MARK, DIA_MARK]
leg_y = [443, 461, 477, 493]
for n, m, ly in zip(leg_names, leg_marks, leg_y):
    axn.scatter([273], [ly], s=s_px(16), marker=m, color='#fad1aa', edgecolors='#f0b88a', linewidths=0.4, zorder=3)
    axn.text(284, ly, n, ha='left', va='center', fontsize=6.3)
axn.text(258, 529, 'Interaction', ha='left', va='center', fontsize=6.3)
for n, ly, et in zip(['Astrocyte', 'Microglia', 'Neuron'], [545, 561, 577], ['a', 'm', 'n']):
    axn.plot([260, 277], [ly, ly], color=edge_cols[et], lw=0.9, ls=(0, (2.2, 1.6)))
    axn.text(284, ly, n, ha='left', va='center', fontsize=6.3)

# ---------------- panel letters ----------------
for (tx, ty, s) in [(12, 8, '(A)'), (202, 8, '(B)'), (401, 10, '(C)'), (12, 186, '(D)'), (217, 197, '(E)'),
                    (408, 191, '(F)'), (13, 403, '(G)'), (369, 402, '(H)')]:
    axn.text(tx, ty, s, ha='center', va='center', fontsize=9, color='#111111')

fig.savefig('out.png', dpi=100)
